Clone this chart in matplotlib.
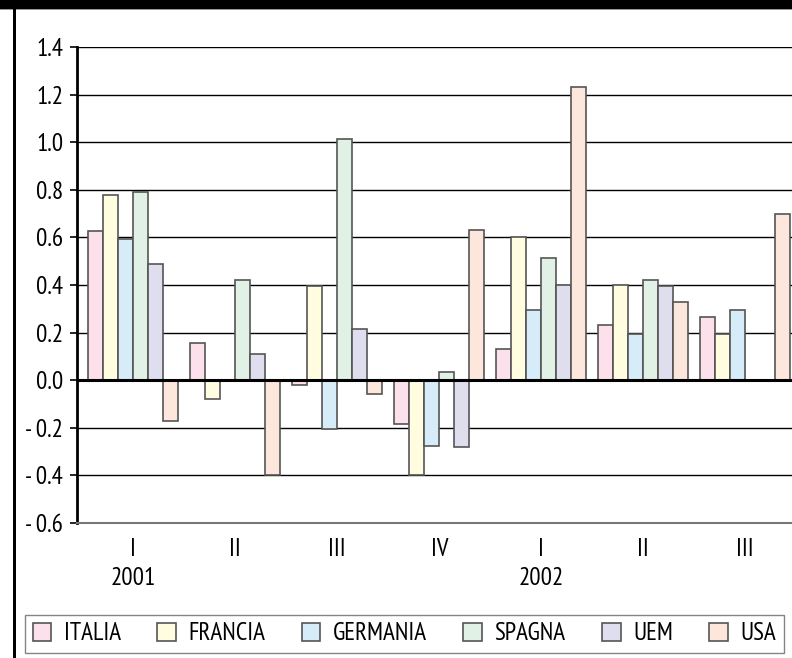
import numpy as np
import matplotlib
matplotlib.use('Agg')
import matplotlib.pyplot as plt
from matplotlib.patches import Rectangle

plt.rcParams['font.family'] = ['PT Sans Narrow', 'DejaVu Sans']
FS = 18

# ─── data (quarterly % changes) ──────────────────────────────────────────────
quarters = ['I', 'II', 'III', 'IV', 'I', 'II', 'III']
years = ['2001', '', '', '', '2002', '', '']
countries = ['ITALIA', 'FRANCIA', 'GERMANIA', 'SPAGNA', 'UEM', 'USA']

italia   = [0.625, 0.155, -0.02, -0.185, 0.13, 0.23, 0.265]
francia  = [0.78, -0.08, 0.395, -0.40, 0.60, 0.40, 0.195]
germania = [0.595, np.nan, -0.205, -0.275, 0.295, 0.195, 0.295]
spagna   = [0.79, 0.42, 1.015, 0.035, 0.515, 0.42, np.nan]
uem      = [0.49, 0.11, 0.215, -0.28, 0.40, 0.395, np.nan]
usa      = [-0.17, -0.40, -0.06, 0.63, 1.23, 0.33, 0.70]

series = [italia, francia, germania, spagna, uem, usa]
colors = ['#FCE0EC', '#FFFCE0', '#D6ECF9', '#E1F1E6', '#DFDEEE', '#FDE6DC']

yticks = [1.4, 1.2, 1.0, 0.8, 0.6, 0.4, 0.2, 0.0, -0.2, -0.4, -0.6]

# ─── figure ─────────────────────────────────────────────────────────────────
W, H = 792, 658
fig = plt.figure(figsize=(W / 100, H / 100), dpi=100)

# axes: left spine at px 77, y=1.4 at px 47, y=-0.6 at px 523
ax = fig.add_axes([77 / W, (H - 523) / H, 1 - 77 / W, (523 - 47) / H])

x = np.arange(len(quarters))
bw = 15 / 102
for k, (vals, c, name) in enumerate(zip(series, colors, countries)):
    ax.bar(x + (k - 2.5) * bw, vals, width=bw, color=c, edgecolor='#555555',
           linewidth=1.2, label=name, zorder=3)

ax.set_ylim(-0.6, 1.4)
ax.set_xlim((77 - 133.3) / 102, (792 - 133.3) / 102)
ax.set_yticks(yticks)
ax.set_yticklabels([f'{v:.1f}' if v >= 0 else f'- {abs(v):.1f}' for v in yticks])
ax.yaxis.grid(True, color='black', linewidth=1.0, zorder=0)
ax.axhline(0, color='black', linewidth=2.2, zorder=4)

ax.set_xticks(x)
ax.set_xticklabels([f'{q}\n{y}' for q, y in zip(quarters, years)])
for lbl in ax.get_xticklabels():
    lbl.set_linespacing(1.3)
    lbl.set_verticalalignment('top')

ax.tick_params(axis='x', length=0, pad=11, labelsize=FS)
ax.tick_params(axis='y', length=5, width=1.2, pad=5, labelsize=FS)

for s in ['top', 'right']:
    ax.spines[s].set_visible(False)
ax.spines['left'].set_linewidth(2)
ax.spines['bottom'].set_color('#777777')
ax.spines['bottom'].set_linewidth(1.5)

# legend
fig.legend(loc='upper left', ncol=6,
           bbox_to_anchor=(25 / W, (H - 615) / H),
           frameon=True, fancybox=False, edgecolor='#666666',
           fontsize=FS, handlelength=0.75, handleheight=0.75,
           handletextpad=0.5, columnspacing=1.45, borderaxespad=0,
           borderpad=0.3)

# frame decorations: black header strip and left border
fig.patches.append(Rectangle((0, (H - 9) / H), 1, 9 / H, transform=fig.transFigure,
                             facecolor='black', edgecolor='none'))
fig.patches.append(Rectangle((0, (H - 10) / H), 1, 1 / H, transform=fig.transFigure,
                             facecolor='#999999', edgecolor='none'))
fig.patches.append(Rectangle((13 / W, 0), 3 / W, 1, transform=fig.transFigure,
                             facecolor='black', edgecolor='none'))

fig.savefig('out.png', dpi=100)
